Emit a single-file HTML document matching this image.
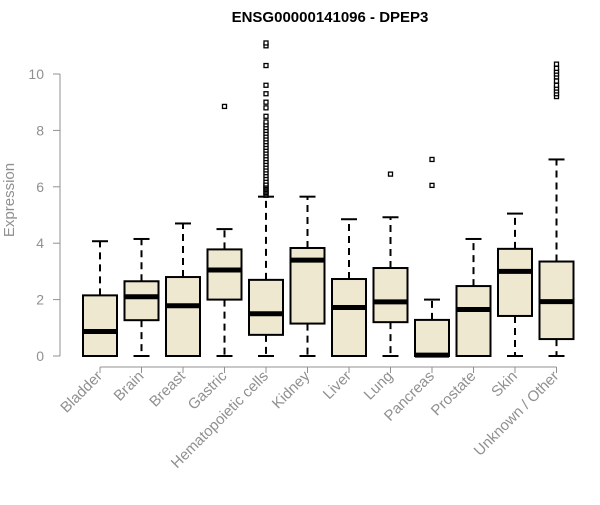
<!DOCTYPE html>
<html><head><meta charset="utf-8"><style>
body{margin:0;background:#fff}
svg text{font-family:"Liberation Sans",Arial,sans-serif}
</style></head><body>
<svg id="c" width="600" height="500" xmlns="http://www.w3.org/2000/svg">
<text x="330" y="22" text-anchor="middle" font-size="15" font-weight="bold">ENSG00000141096 - DPEP3</text>
<text transform="translate(14,200) rotate(-90)" text-anchor="middle" font-size="15" fill="#909090">Expression</text>
<g id="plot"></g>
</svg>
<script>
const categories=["Bladder","Brain","Breast","Gastric","Hematopoietic cells","Kidney","Liver","Lung","Pancreas","Prostate","Skin","Unknown / Other"];
const mins=[0,0,0,0,0,0,0,0,0,0,0,0];
const q1s=[0,1.27,0,2.0,0.75,1.15,0,1.2,0,0,1.42,0.6];
const medians=[0.87,2.1,1.78,3.05,1.5,3.4,1.72,1.92,0.03,1.65,3.0,1.93];
const q3s=[2.15,2.65,2.8,3.78,2.7,3.83,2.73,3.12,1.28,2.48,3.8,3.35];
const maxs=[4.07,4.15,4.7,4.5,5.65,5.65,4.85,4.92,2.0,4.15,5.05,6.97];
const outliers=[[],[],[],[8.85],
[5.7,5.75,5.8,5.85,5.9,5.95,6.0,6.05,6.1,6.2,6.3,6.4,6.5,6.6,6.7,6.8,6.9,7.0,7.1,7.2,7.3,7.4,7.5,7.6,7.7,7.8,7.9,8.0,8.1,8.2,8.3,8.5,8.8,9.0,9.3,9.6,10.3,11.0,11.1],
[],[],[6.45],[6.05,6.97],[],[],[9.2,9.3,9.4,9.5,9.6,9.75,9.9,10.0,10.1,10.2,10.35]];
const yTicks=[0,2,4,6,8,10];
const ns="http://www.w3.org/2000/svg";
const g=document.getElementById('plot');
const y=v=>356-28.2*v;
const x=i=>100+i*41.5;
function mk(t,a){const e=document.createElementNS(ns,t);for(const k in a)e.setAttribute(k,a[k]);g.appendChild(e);return e;}
let ax=mk('line',{x1:60,x2:60,y1:y(0),y2:y(10),stroke:'#909090'});


yTicks.forEach(t=>{
 let l=mk('line',{x1:53,x2:60,y1:y(t),y2:y(t),stroke:'#909090'});
 
 
 let tx=mk('text',{x:44,y:y(t)+5,'text-anchor':'end','font-size':14,fill:'#909090'});tx.textContent=t;
 
 
});
let xa=mk('line',{x1:x(0),x2:x(11),y1:367,y2:367,stroke:'#909090'});


categories.forEach((c,i)=>{
 const cx=x(i);
 let tk=mk('line',{x1:cx,x2:cx,y1:367,y2:373,stroke:'#909090'});
 
 
 let w1=mk('line',{x1:cx,x2:cx,y1:y(q3s[i]),y2:y(maxs[i]),stroke:'#000','stroke-width':2,'stroke-dasharray':'7,5'});
 
 
 let w2=mk('line',{x1:cx,x2:cx,y1:y(q1s[i]),y2:y(mins[i]),stroke:'#000','stroke-width':2,'stroke-dasharray':'7,5'});
 
 
 [maxs[i],mins[i]].forEach(v=>{let cp=mk('line',{x1:cx-8,x2:cx+8,y1:y(v),y2:y(v),stroke:'#000','stroke-width':2});
  
  });
 let b=mk('rect',{x:cx-17,y:y(q3s[i]),width:34,height:y(q1s[i])-y(q3s[i]),fill:'#efe8d0',stroke:'#000','stroke-width':2});
 
 
 let m=mk('line',{x1:cx-17,x2:cx+17,y1:y(medians[i]),y2:y(medians[i]),stroke:'#000','stroke-width':5});
 
 
 outliers[i].forEach(v=>{let o=mk('rect',{x:cx-2,y:y(v)-2,width:4,height:4,fill:'#fff',stroke:'#000','stroke-width':1.3});
  
  });
 let t=mk('text',{x:cx+3,y:377,'text-anchor':'end','font-size':15,fill:'#909090',transform:`rotate(-45 ${cx+3} 377)`});
 t.textContent=c;
 
 
});
</script>
</body></html>
